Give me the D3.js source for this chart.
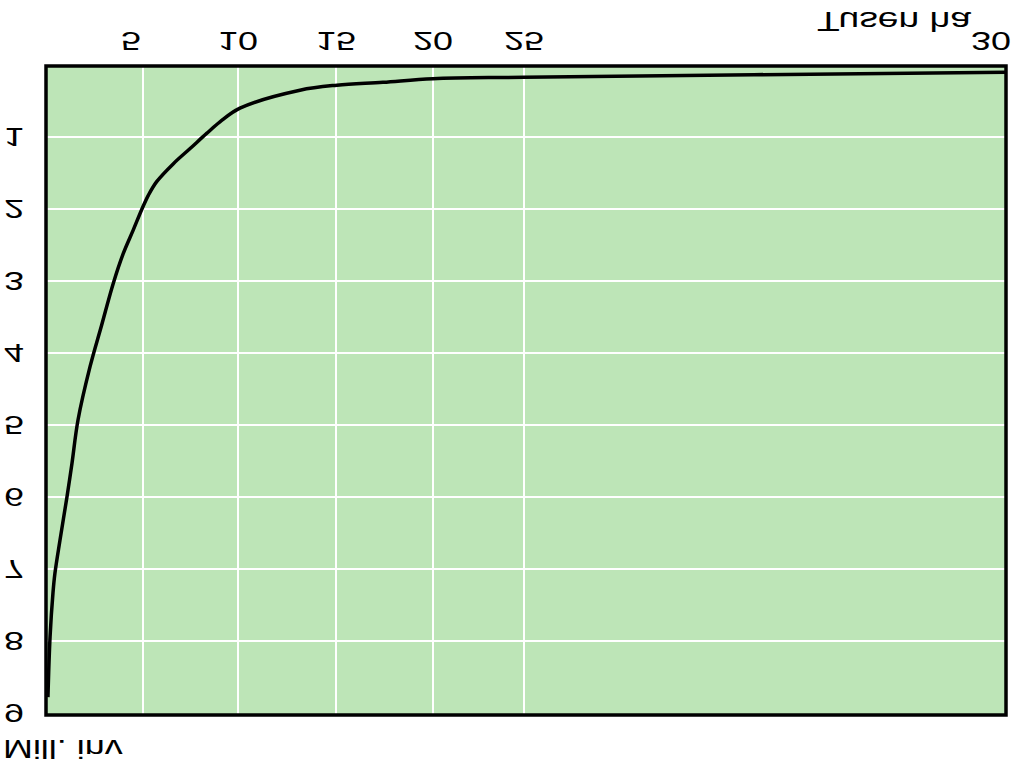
<!DOCTYPE html>
<html><head><meta charset="utf-8">
<script src="https://cdn.jsdelivr.net/npm/d3@7"></script>
<style>html,body{margin:0;padding:0;background:#fff;}svg{display:block;}</style>
</head><body>
<script>
// Data (the picture is a vertically mirrored chart)
const xTicks = [5, 10, 15, 20, 25, 30];
const xTickLabels = ["5", "10", "15", "20", "25", "30"];
const yTicks = [1, 2, 3, 4, 5, 6, 7, 8, 9];
const yTickLabels = ["1", "2", "3", "4", "5", "6", "7", "8", "9"];
const areaTusenHa = [0.1, 0.21, 0.36, 0.46, 0.72, 1.08, 1.34, 1.65, 2.27, 2.87, 3.47, 3.98, 4.5, 4.93, 5.28, 5.72, 6.6, 7.48, 8.35, 9.05, 10.1, 13.16, 15.05, 17.42, 20.0, 25.0, 30.0];
const millInv = [8.78, 7.94, 7.33, 7.06, 6.6, 6.0, 5.53, 4.93, 4.19, 3.61, 3.03, 2.62, 2.29, 2.01, 1.81, 1.62, 1.37, 1.16, 0.95, 0.79, 0.6, 0.35, 0.28, 0.24, 0.19, 0.17, 0.10];
const xTitle = "Tusen ha";
const yTitle = "Mill. inv";

(function () {
const W = 1024, H = 764;
const svg = d3.select("body").append("svg").attr("width", W).attr("height", H);

const pL = 46, pR = 1006, pT = 66, pB = 715;
// x axis in the original is not evenly spaced
const x = d3.scaleLinear().domain([0, 5, 10, 15, 20, 25, 30]).range([pL, 143, 238, 336, 433, 524, pR]);
const y = d3.scaleLinear().domain([0, 9]).range([65, 713]);

svg.append("rect").attr("x", pL).attr("y", pT).attr("width", pR - pL).attr("height", pB - pT)
  .attr("fill", "#bde5b7");

// grid
svg.append("g").selectAll("line").data(xTicks.filter(d => d < 30)).join("line")
  .attr("x1", d => x(d)).attr("x2", d => x(d)).attr("y1", pT).attr("y2", pB)
  .attr("stroke", "#fff").attr("stroke-width", 2);
svg.append("g").selectAll("line").data(yTicks.filter(d => d < 9)).join("line")
  .attr("x1", pL).attr("x2", pR).attr("y1", d => y(d)).attr("y2", d => y(d))
  .attr("stroke", "#fff").attr("stroke-width", 2);

// curve
const pts = areaTusenHa.map((a, i) => [a, millInv[i]]);
svg.append("path").datum(pts)
  .attr("d", d3.line().x(d => x(d[0])).y(d => y(d[1])).curve(d3.curveCatmullRom.alpha(0.5)))
  .attr("fill", "none").attr("stroke", "#000").attr("stroke-width", 3.5).attr("stroke-linejoin", "round");

// frame
svg.append("rect").attr("x", pL).attr("y", pT).attr("width", pR - pL).attr("height", pB - pT)
  .attr("fill", "none").attr("stroke", "#000").attr("stroke-width", 3.5);

const font = "Liberation Sans, Arial, sans-serif";
const sx = 1.38;
function flipText(txt, px, py, size, anchor) {
  svg.append("text").text(txt)
    .attr("transform", `translate(${px},${py}) scale(${sx},-1)`)
    .attr("text-anchor", anchor).attr("font-family", font).attr("font-size", size).attr("fill", "#000");
}

xTicks.forEach((d, i) => {
  if (d === 30) flipText(xTickLabels[i], 1011, 32, 26, "end");
  else flipText(xTickLabels[i], x(d) - (d === 5 ? 12 : 0), 32, 26, "middle");
});
yTicks.forEach((d, i) => flipText(yTickLabels[i], 14, y(d) - 9.3, 26, "middle"));
flipText(xTitle, 971, 12, 27, "end");
flipText(yTitle, 3, 740, 26, "start");
})();
</script>
</body></html>
